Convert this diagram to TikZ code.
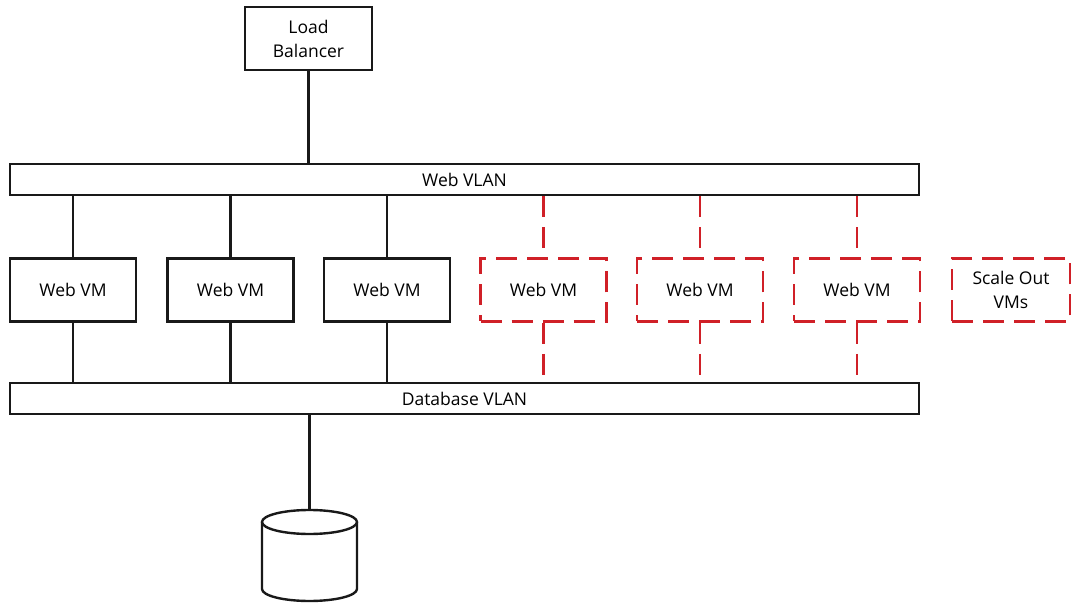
\documentclass[tikz,border=0pt]{standalone}
\usepackage{fontspec}
\setmainfont{Open Sans}
\definecolor{vmred}{RGB}{208,32,40}
\definecolor{ink}{RGB}{25,25,25}
\newcommand\lbl{\fontsize{17.5}{24}\selectfont}
\begin{document}
\begin{tikzpicture}[x=1pt,y=-1pt,
  box/.style={draw=ink, line width=2.4pt, fill=white, minimum width=126pt,
    minimum height=63pt, inner sep=0pt, font=\lbl, align=center},
  scalebox/.style={box, draw=vmred, dash pattern=on 21pt off 10pt, line width=2.6pt},
  bar/.style={draw=ink, line width=2.4pt, fill=white, minimum width=909pt,
    minimum height=31pt, inner sep=0pt, font=\lbl},
  link/.style={draw=ink, line width=2.4pt},
  scalelink/.style={draw=vmred, line width=2.6pt, dash pattern=on 21pt off 10pt},
]
\useasboundingbox (0,0) rectangle (1072,604);

% load balancer and the two networks
\node[box, minimum width=127pt] (lb) at (308.5,38.5) {Load\\Balancer};
\node[bar] (webvlan) at (464.5,179.5) {Web VLAN};
\node[bar] (dbvlan) at (464.5,398.5) {Database VLAN};

% running web servers
\node[box] (vm1) at (73,290) {Web VM};
\node[box] (vm2) at (230.5,290) {Web VM};
\node[box] (vm3) at (387,290) {Web VM};

% scale-out web servers
\node[scalebox] (vm4) at (543.5,290) {Web VM};
\node[scalebox] (vm5) at (700,290) {Web VM};
\node[scalebox] (vm6) at (857,290) {Web VM};
\node[scalebox, minimum width=118pt] (more) at (1011,290) {Scale Out\\VMs};

% database
\coordinate (dbtop) at (309.5,510);
\draw[link, fill=white] (262,522) -- (262,589)
  arc[start angle=180, end angle=0, x radius=47.5, y radius=12] -- (357,522);
\draw[link] (309.5,522) ellipse[x radius=47.5, y radius=12];

% connections
\draw[link] (lb.south) -- (lb.south |- webvlan.north);
\foreach \v in {vm1,vm2,vm3}{
  \draw[link] (webvlan.south -| \v.north) -- (\v.north);
  \draw[link] (\v.south) -- (\v.south |- dbvlan.north);
}
\foreach \v in {vm4,vm5,vm6}{
  \draw[scalelink] (webvlan.south -| \v.north) -- (\v.north);
  \draw[scalelink] (\v.south) -- (\v.south |- dbvlan.north);
}
\draw[link] (dbvlan.south -| dbtop) -- (dbtop);
\end{tikzpicture}
\end{document}
